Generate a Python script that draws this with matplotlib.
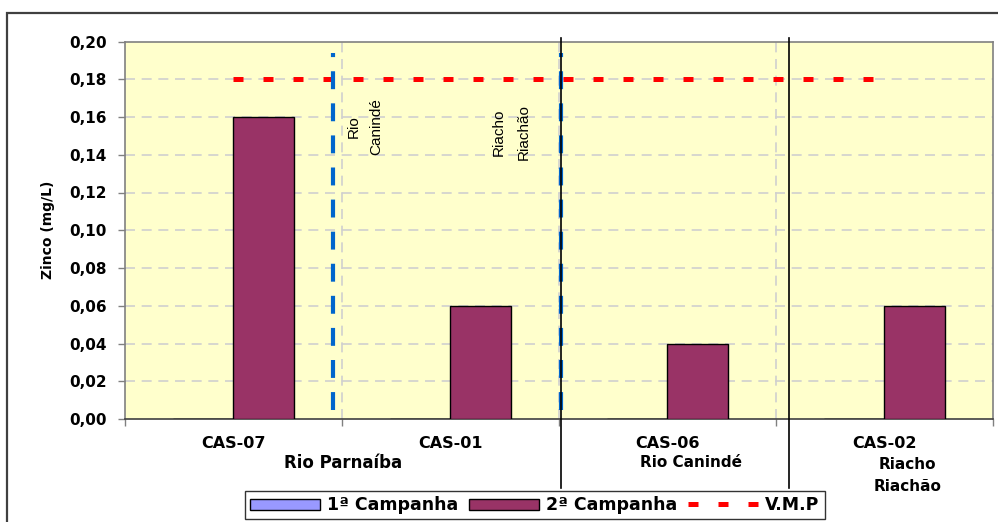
import numpy as np
import matplotlib
matplotlib.use("Agg")
import matplotlib.pyplot as plt
from matplotlib.lines import Line2D
from matplotlib.patches import Patch, Rectangle

# Data
stations = ["CAS-07", "CAS-01", "CAS-06", "CAS-02"]
campanha_1 = [0.0, 0.0, 0.0, 0.0]
campanha_2 = [0.16, 0.06, 0.04, 0.06]
vmp = [0.18, 0.18, 0.18, 0.18]
yticks = [0.00, 0.02, 0.04, 0.06, 0.08, 0.10, 0.12, 0.14, 0.16, 0.18, 0.20]
ytick_labels = ["0,00", "0,02", "0,04", "0,06", "0,08", "0,10",
                "0,12", "0,14", "0,16", "0,18", "0,20"]

W, H = 998, 522
fig = plt.figure(figsize=(W / 100, H / 100), dpi=100)
ax = fig.add_axes([125 / W, 1 - 419 / H, (993 - 125) / W, (419 - 41.5) / H])
ax.set_facecolor("#FFFFCC")

x = np.arange(len(stations))
bw = 0.28
ax.bar(x - bw / 2, campanha_1, bw, color="#9999FF", edgecolor="black",
       linewidth=1.0, zorder=3)
ax.bar(x + bw / 2, campanha_2, bw, color="#993366", edgecolor="black",
       linewidth=1.0, zorder=3)
ax.plot(x, vmp, color="#FF0000", linewidth=3.6, dashes=(2.0, 4.0),
        zorder=4, solid_capstyle="butt", dash_capstyle="butt")

ax.set_xlim(-0.5, 3.5)
ax.set_ylim(0, 0.20)

# Axis ticks
bold = dict(family="DejaVu Sans", weight="bold")
ax.set_yticks(yticks)
ax.set_yticklabels(ytick_labels, fontsize=11, **bold)
ax.tick_params(axis="y", direction="out", length=5, width=1,
               color="#808080", pad=8)
ax.set_xticks(x)
ax.set_xticklabels(stations, fontsize=11.5, **bold)
ax.tick_params(axis="x", which="major", length=0, pad=12)
ax.set_xticks(np.arange(-0.5, 4.0, 1.0), minor=True)
ax.tick_params(axis="x", which="minor", direction="out", length=5,
               width=1, color="#808080")

# Gridlines
for yv in yticks[1:-1]:
    ax.axhline(yv, color="#CFCFCF", linewidth=1.2, dashes=(6, 4), zorder=1)
for xv in [0.5, 1.5, 2.5]:
    ax.axvline(xv, color="#CFCFCF", linewidth=1.2, dashes=(6, 4), zorder=1)

for side in ["left", "right", "top", "bottom"]:
    ax.spines[side].set_color("#808080")
    ax.spines[side].set_linewidth(1.2)
ax.spines["bottom"].set_color("#404040")

ax.set_ylabel("Zinco (mg/L)", fontsize=10, weight="bold",
              family="DejaVu Sans", labelpad=10)

# River separators
for xv in [0.458, 1.509]:
    ax.plot([xv, xv], [0.005, 0.194], color="#0066CC", linewidth=3,
            dashes=(4.3, 3.4), zorder=5)
for xv in [1.509, 2.56]:
    ax.plot([xv, xv], [-0.0366, 0.2019], color="black", linewidth=1.2,
            zorder=6, clip_on=False)

# Rotated river names inside the plot
rot = dict(rotation=90, ha="center", va="center", fontsize=11,
           family="Liberation Sans", zorder=6)
ax.text(0.555, 0.155, "Rio", **rot)
ax.text(0.660, 0.155, "Canindé", **rot)
ax.text(1.221, 0.152, "Riacho", **rot)
ax.text(1.336, 0.152, "Riachão", **rot)

# River names below the station labels
sub = dict(ha="center", va="center", clip_on=False, **bold)
ax.text(0.505, -0.0233, "Rio Parnaíba", fontsize=12, **sub)
ax.text(2.108, -0.0233, "Rio Canindé", fontsize=11, **sub)
ax.text(3.104, -0.0243, "Riacho", fontsize=11, **sub)
ax.text(3.104, -0.0355, "Riachão", fontsize=11, **sub)

# Outer chart frame
fig.patches.append(Rectangle((7 / W, -0.1), 1.2, 1 - 13 / H + 0.1,
                             transform=fig.transFigure, fill=False,
                             edgecolor="#404040", linewidth=1.6))

handles = [Patch(facecolor="#9999FF", edgecolor="black", linewidth=1.0),
           Patch(facecolor="#993366", edgecolor="black", linewidth=1.0),
           Line2D([], [], color="#FF0000", linewidth=3.6, dashes=(2.0, 4.0))]
leg = fig.legend(handles, ["1ª Campanha", "2ª Campanha", "V.M.P"],
                 loc="upper left", bbox_to_anchor=(245 / W, 1 - 491 / H),
                 ncol=3, frameon=True, fancybox=False, borderaxespad=0,
                 prop=dict(family="DejaVu Sans", weight="bold", size=12.5),
                 handlelength=4.0, handleheight=0.6, handletextpad=0.45,
                 columnspacing=0.6, borderpad=0.3)
leg.get_frame().set_edgecolor("black")
leg.get_frame().set_linewidth(1.0)

fig.savefig("out.png", dpi=100)
